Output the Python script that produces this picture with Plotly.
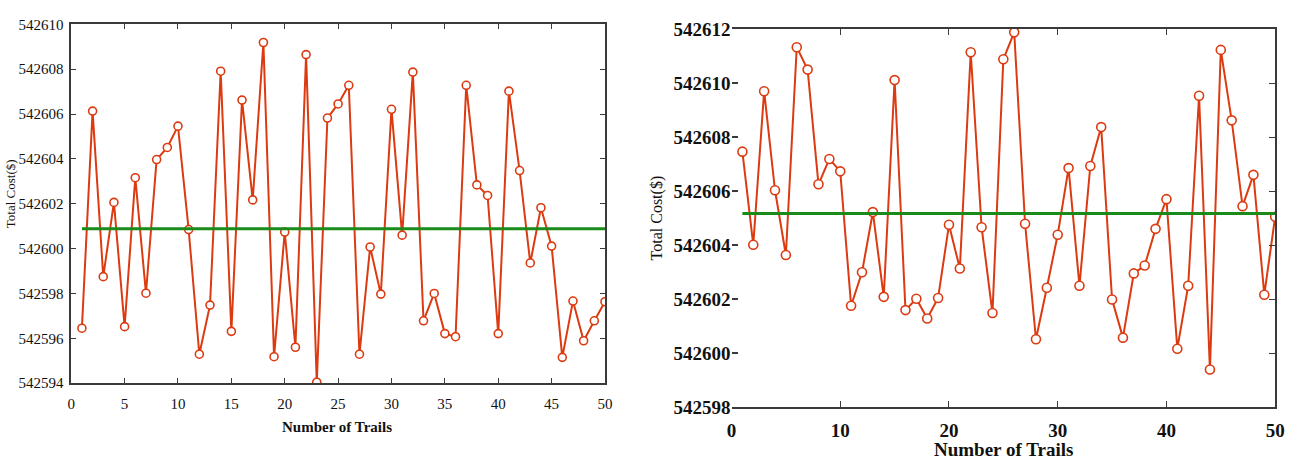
import plotly.graph_objects as go

# ---------------- data ----------------
trials = list(range(1, 51))

cost_left = [
    542596.45, 542606.13, 542598.75, 542602.06, 542596.52, 542603.16, 542598.01, 542603.97, 542604.51, 542605.46,
    542600.85, 542595.29, 542597.48, 542607.91, 542596.31, 542606.62, 542602.17, 542609.19, 542595.18, 542600.74,
    542595.60, 542608.65, 542594.04, 542605.82, 542606.45, 542607.28, 542595.29, 542600.07, 542597.97, 542606.21,
    542600.60, 542607.87, 542596.78, 542598.00, 542596.21, 542596.07, 542607.28, 542602.84, 542602.37, 542596.21,
    542607.02, 542603.48, 542599.36, 542601.82, 542600.11, 542595.15, 542597.66, 542595.89, 542596.78, 542597.63,
]
mean_left = 542600.89

cost_right = [
    542607.46, 542604.01, 542609.70, 542606.03, 542603.63, 542611.33, 542610.50, 542606.25, 542607.19, 542606.73,
    542601.75, 542602.99, 542605.22, 542602.08, 542610.11, 542601.59, 542602.01, 542601.28, 542602.04, 542604.75,
    542603.13, 542611.14, 542604.66, 542601.48, 542610.88, 542611.88, 542604.79, 542600.51, 542602.42, 542604.38,
    542606.85, 542602.49, 542606.93, 542608.37, 542601.98, 542600.57, 542602.95, 542603.24, 542604.60, 542605.70,
    542600.16, 542602.49, 542609.53, 542599.39, 542611.23, 542608.62, 542605.44, 542606.60, 542602.16, 542605.05,
]
mean_right = 542605.17

x_ticks_left = [0, 5, 10, 15, 20, 25, 30, 35, 40, 45, 50]
y_ticks_left = [542594, 542596, 542598, 542600, 542602, 542604, 542606, 542608, 542610]
x_ticks_right = [0, 10, 20, 30, 40, 50]
y_ticks_right = [542598, 542600, 542602, 542604, 542606, 542608, 542610, 542612]

x_title = "Number of Trails"
y_title = "Total Cost($)"

# ---------------- style ----------------
RED = "#dc3a10"
GREEN = "#1a8a1a"
AX = "#3a3a3a"
FONT = "Liberation Serif"

W, H = 1299, 460
L_x0, L_x1, L_y0, L_y1 = 67, 607, 15, 391
R_x0, R_x1, R_y0, R_y1 = 735, 1285, 20, 416


def px_dom(a, b):
    return [a / W, b / W]


def py_dom(top, bottom):
    return [1 - bottom / H, 1 - top / H]


fig = go.Figure()

fig.add_trace(go.Scatter(
    x=trials, y=cost_left, xaxis="x", yaxis="y", mode="lines+markers",
    line=dict(color=RED, width=2),
    marker=dict(symbol="circle", size=8, color="white", line=dict(color=RED, width=1.6)),
    showlegend=False, hoverinfo="x+y"))
fig.add_trace(go.Scatter(
    x=[1, 50], y=[mean_left, mean_left], xaxis="x", yaxis="y", mode="lines",
    line=dict(color=GREEN, width=3), showlegend=False, hoverinfo="skip"))

fig.add_trace(go.Scatter(
    x=trials, y=cost_right, xaxis="x2", yaxis="y2", mode="lines+markers",
    line=dict(color=RED, width=2),
    marker=dict(symbol="circle", size=9, color="white", line=dict(color=RED, width=1.6)),
    showlegend=False, hoverinfo="x+y"))
fig.add_trace(go.Scatter(
    x=[1, 50], y=[mean_right, mean_right], xaxis="x2", yaxis="y2", mode="lines",
    line=dict(color=GREEN, width=3), showlegend=False, hoverinfo="skip"))
# carrier for the right-hand mirrored axis of the second panel
fig.add_trace(go.Scatter(
    x=[None], y=[None], xaxis="x2", yaxis="y3", mode="lines",
    showlegend=False, hoverinfo="skip"))

common = dict(showgrid=False, zeroline=False, ticks="inside", linecolor=AX, tickcolor=AX,
              fixedrange=True)

small_font = dict(family=FONT, size=15, color="#111")
big_font = dict(family=FONT, size=19, color="#111", weight="bold")

fig.update_layout(
    width=W, height=H,
    margin=dict(l=0, r=0, t=0, b=0),
    paper_bgcolor="white", plot_bgcolor="white",
    xaxis=dict(domain=px_dom(L_x0, L_x1), range=[0, 50], tickvals=x_ticks_left,
               ticktext=[str(v) for v in x_ticks_left], anchor="y",
               showline=True, mirror="ticks", linewidth=1.5, ticklen=5,
               ticklabelstandoff=6, tickfont=small_font, **common),
    yaxis=dict(domain=py_dom(L_y0, L_y1), range=[542594, 542610], tickvals=y_ticks_left,
               ticktext=[str(v) for v in y_ticks_left], anchor="x",
               showline=True, mirror="ticks", linewidth=1.5, ticklen=5,
               ticklabelstandoff=3, tickfont=small_font, **common),
    xaxis2=dict(domain=px_dom(R_x0, R_x1), range=[0, 50], tickvals=x_ticks_right,
                ticktext=[str(v) for v in x_ticks_right], anchor="y2",
                showline=True, mirror="ticks", linewidth=2, ticklen=6,
                ticklabelstandoff=5, tickfont=big_font, **common),
    yaxis2=dict(domain=py_dom(R_y0, R_y1), range=[542598, 542612], tickvals=y_ticks_right,
                ticktext=[str(v) for v in y_ticks_right], anchor="x2",
                showline=False, ticklen=6, tickwidth=2,
                tickfont=big_font, **common),
    yaxis3=dict(domain=py_dom(R_y0, R_y1), range=[542598, 542612], tickvals=y_ticks_right,
                overlaying="y2", side="right", anchor="x2",
                showline=True, linewidth=2, ticklen=6, showticklabels=False, **common),
    annotations=[
        dict(text=x_title, xref="paper", yref="paper", x=336 / W, y=1 - 437 / H,
             showarrow=False, xanchor="center", yanchor="middle",
             font=dict(family=FONT, size=15, color="#111", weight="bold")),
        dict(text=y_title, xref="paper", yref="paper", x=5 / W, y=1 - 192 / H,
             showarrow=False, xanchor="center", yanchor="middle", textangle=-90,
             font=dict(family=FONT, size=13, color="#111")),
        dict(text=x_title, xref="paper", yref="paper", x=1010 / W, y=1 - 460 / H,
             showarrow=False, xanchor="center", yanchor="middle",
             font=dict(family=FONT, size=19, color="#111", weight="bold")),
        dict(text=y_title, xref="paper", yref="paper", x=660 / W, y=1 - 218 / H,
             showarrow=False, xanchor="center", yanchor="middle", textangle=-90,
             font=dict(family=FONT, size=16, color="#111")),
    ],
)

fig.write_html("out.html")
